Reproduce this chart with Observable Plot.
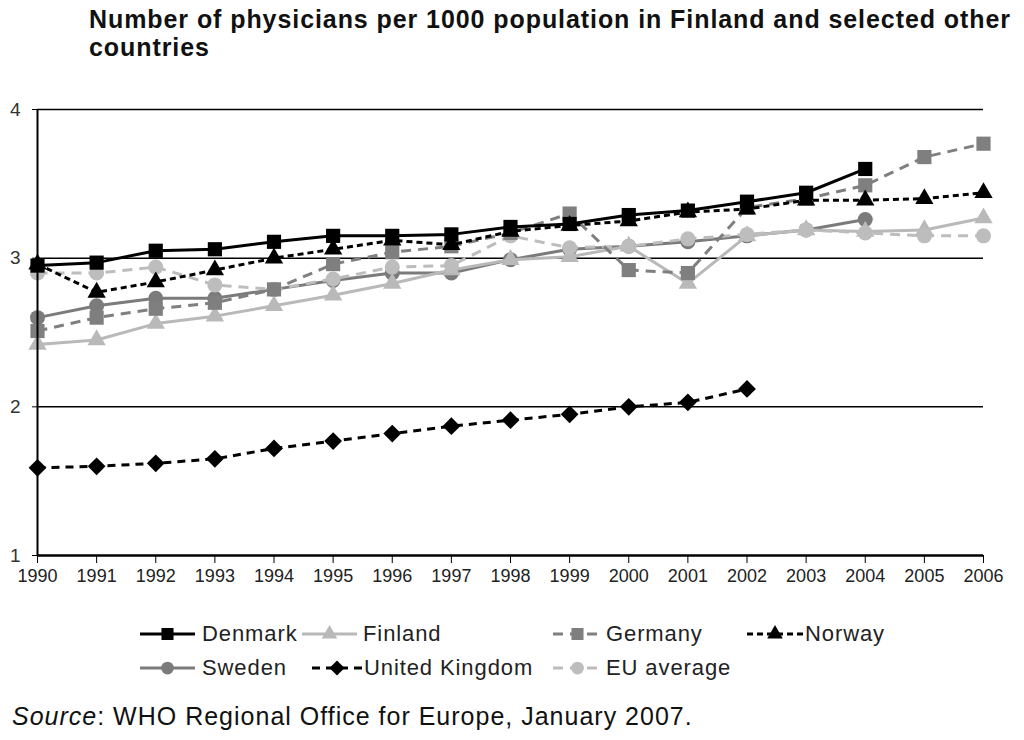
<!DOCTYPE html>
<html>
<head>
<meta charset="utf-8">
<script src="https://cdn.jsdelivr.net/npm/d3@7"></script>
<script src="https://cdn.jsdelivr.net/npm/@observablehq/plot@0.6"></script>
<style>
  html, body { margin: 0; padding: 0; background: #fff; }
  #page { position: relative; width: 1024px; height: 740px; font-family: "Liberation Sans", Arial, sans-serif; color: #111; }
  #title { position: absolute; left: 89px; top: 5px; font-weight: bold; font-size: 25px; line-height: 28px; color: #111; white-space: nowrap; }
  #chart { position: absolute; left: 0; top: 70px; }
  #legend { position: absolute; left: 0; top: 615px; width: 1024px; height: 72px; }
  .swatch { position: absolute; }
  .label { position: absolute; font-size: 22px; letter-spacing: 0.9px; color: #222; line-height: 24px; white-space: nowrap; }
  #source { position: absolute; left: 12px; top: 702px; font-size: 25px; letter-spacing: 1px; color: #111; white-space: nowrap; }
</style>
</head>
<body>
<div id="page">
  <div id="title"><span id="t1">Number of physicians per 1000 population in Finland and selected other</span><br><span id="t2">countries</span></div>
  <div id="chart"></div>
  <div id="legend"></div>
  <div id="source"><i>Source</i>: WHO Regional Office for Europe, January 2007.</div>
</div>
<script>
// Physicians per 1000 population, 1990–2006 (null = no figure reported)
const years = [1990, 1991, 1992, 1993, 1994, 1995, 1996, 1997, 1998, 1999, 2000, 2001, 2002, 2003, 2004, 2005, 2006];
const denmark = [2.95, 2.97, 3.05, 3.06, 3.11, 3.15, 3.15, 3.16, 3.21, 3.23, 3.29, 3.32, 3.38, 3.44, 3.60, null, null];
const finland = [2.42, 2.45, 2.56, 2.61, 2.68, 2.75, 2.83, 2.92, 2.99, 3.01, 3.08, 2.83, 3.15, 3.19, 3.18, 3.19, 3.27];
const germany = [2.51, 2.60, 2.66, 2.70, 2.79, 2.96, 3.04, 3.08, 3.17, 3.30, 2.92, 2.90, 3.34, 3.40, 3.49, 3.68, 3.77];
const norway = [2.96, 2.77, 2.84, 2.92, 3.00, 3.06, 3.12, 3.09, 3.18, 3.22, 3.25, 3.31, 3.33, 3.39, 3.39, 3.40, 3.44];
const sweden = [2.60, 2.68, 2.73, 2.73, 2.79, 2.85, 2.90, 2.90, 2.99, 3.06, 3.08, 3.11, 3.15, 3.19, 3.26, null, null];
const unitedKingdom = [1.59, 1.60, 1.62, 1.65, 1.72, 1.77, 1.82, 1.87, 1.91, 1.95, 2.00, 2.03, 2.12, null, null, null, null];
const euAverage = [2.90, 2.90, 2.94, 2.82, 2.79, 2.86, 2.94, 2.95, 3.15, 3.07, 3.08, 3.13, 3.16, 3.19, 3.17, 3.15, 3.15];
const yTicks = [1, 2, 3, 4];

// Stretch the first title line to span the plot width
(function fitTitle() {
  const t1 = document.getElementById("t1");
  const title = document.getElementById("title");
  const w = t1.getBoundingClientRect().width;
  const target = 921;
  const n = t1.textContent.length - 1;
  title.style.letterSpacing = ((target - w) / n) + "px";
})();

// Series styling, in drawing order (later series sit on top)
const series = [
  {name: "Sweden", values: sweden, color: "#7b7b7b", dash: null, symbol: "circle", r: 7.5},
  {name: "Finland", values: finland, color: "#b9b9b9", dash: null, symbol: "triangle", r: 6.8},
  {name: "EU average", values: euAverage, color: "#bdbdbd", dash: "10,7", symbol: "circle", r: 7.5},
  {name: "Germany", values: germany, color: "#7f7f7f", dash: "10,7", symbol: "square", r: 8},
  {name: "United Kingdom", values: unitedKingdom, color: "#000000", dash: "8,6", symbol: "diamond2", r: 8},
  {name: "Denmark", values: denmark, color: "#000000", dash: null, symbol: "square", r: 8},
  {name: "Norway", values: norway, color: "#000000", dash: "6,4", symbol: "triangle", r: 6.8}
];

const marks = [
  Plot.ruleY([2, 3, 4], {stroke: "#000", strokeWidth: 1.5}),
];
for (const s of series) {
  const rows = years.map((year, i) => ({year, value: s.values[i]})).filter(d => d.value != null);
  marks.push(Plot.line(rows, {x: "year", y: "value", stroke: s.color, strokeWidth: 3, strokeDasharray: s.dash, strokeLinecap: "butt", strokeLinejoin: "miter"}));
  marks.push(Plot.dot(rows, {x: "year", y: "value", symbol: () => s.symbol, fill: s.color, stroke: "none", r: s.r}));
}
marks.push(
  Plot.ruleX([1990], {stroke: "#000", strokeWidth: 2}),
  Plot.ruleY([1], {stroke: "#000", strokeWidth: 2.5}),
  Plot.axisX({ticks: years, tickFormat: d => String(d), tickSize: 8, tickPadding: 6, fontSize: 18, stroke: "#000", color: "#222", label: null}),
  Plot.axisY({ticks: yTicks, tickFormat: d => String(d), tickSize: 5, tickPadding: 12, fontSize: 19, stroke: "#000", color: "#333", label: null})
);

const chart = Plot.plot({
  width: 1024,
  height: 520,
  marginLeft: 37,
  marginRight: 41,
  marginTop: 39,
  marginBottom: 35,
  x: {domain: [1990, 2006], type: "linear"},
  y: {domain: [1, 4], type: "linear"},
  style: {fontFamily: "Liberation Sans, Arial, sans-serif", background: "transparent", overflow: "visible"},
  marks
});
document.getElementById("chart").appendChild(chart);

// Legend: line sample with its marker, then the series name
const byName = Object.fromEntries(series.map(s => [s.name, s]));
const legendItems = [
  {name: "Denmark", x: 140, w: 55, tx: 202, row: 0},
  {name: "Finland", x: 302, w: 55, tx: 363, row: 0},
  {name: "Germany", x: 553, w: 49, tx: 606, row: 0},
  {name: "Norway", x: 747, w: 56, tx: 805, row: 0},
  {name: "Sweden", x: 140, w: 55, tx: 202, row: 1},
  {name: "United Kingdom", x: 312, w: 50, tx: 364, row: 1},
  {name: "EU average", x: 553, w: 49, tx: 606, row: 1}
];
const legend = d3.select("#legend");
for (const it of legendItems) {
  const s = byName[it.name];
  const cy = 19 + it.row * 34; // row centre within the legend box
  const svg = legend.append("svg").attr("class", "swatch").attr("width", it.w).attr("height", 24)
    .style("left", it.x + "px").style("top", (cy - 12) + "px");
  svg.append("line").attr("x1", 0).attr("x2", it.w).attr("y1", 12).attr("y2", 12)
    .attr("stroke", s.color).attr("stroke-width", 3).attr("stroke-dasharray", s.dash);
  const sym = {circle: d3.symbolCircle, triangle: d3.symbolTriangle, square: d3.symbolSquare, diamond2: d3.symbolDiamond2}[s.symbol];
  const size = Math.PI * (s.r * 0.85) ** 2;
  svg.append("path").attr("transform", `translate(${it.w / 2},12)`).attr("d", d3.symbol(sym, size)()).attr("fill", s.color);
  legend.append("div").attr("class", "label").style("left", it.tx + "px").style("top", (cy - 12) + "px").text(it.name);
}
</script>
</body>
</html>
